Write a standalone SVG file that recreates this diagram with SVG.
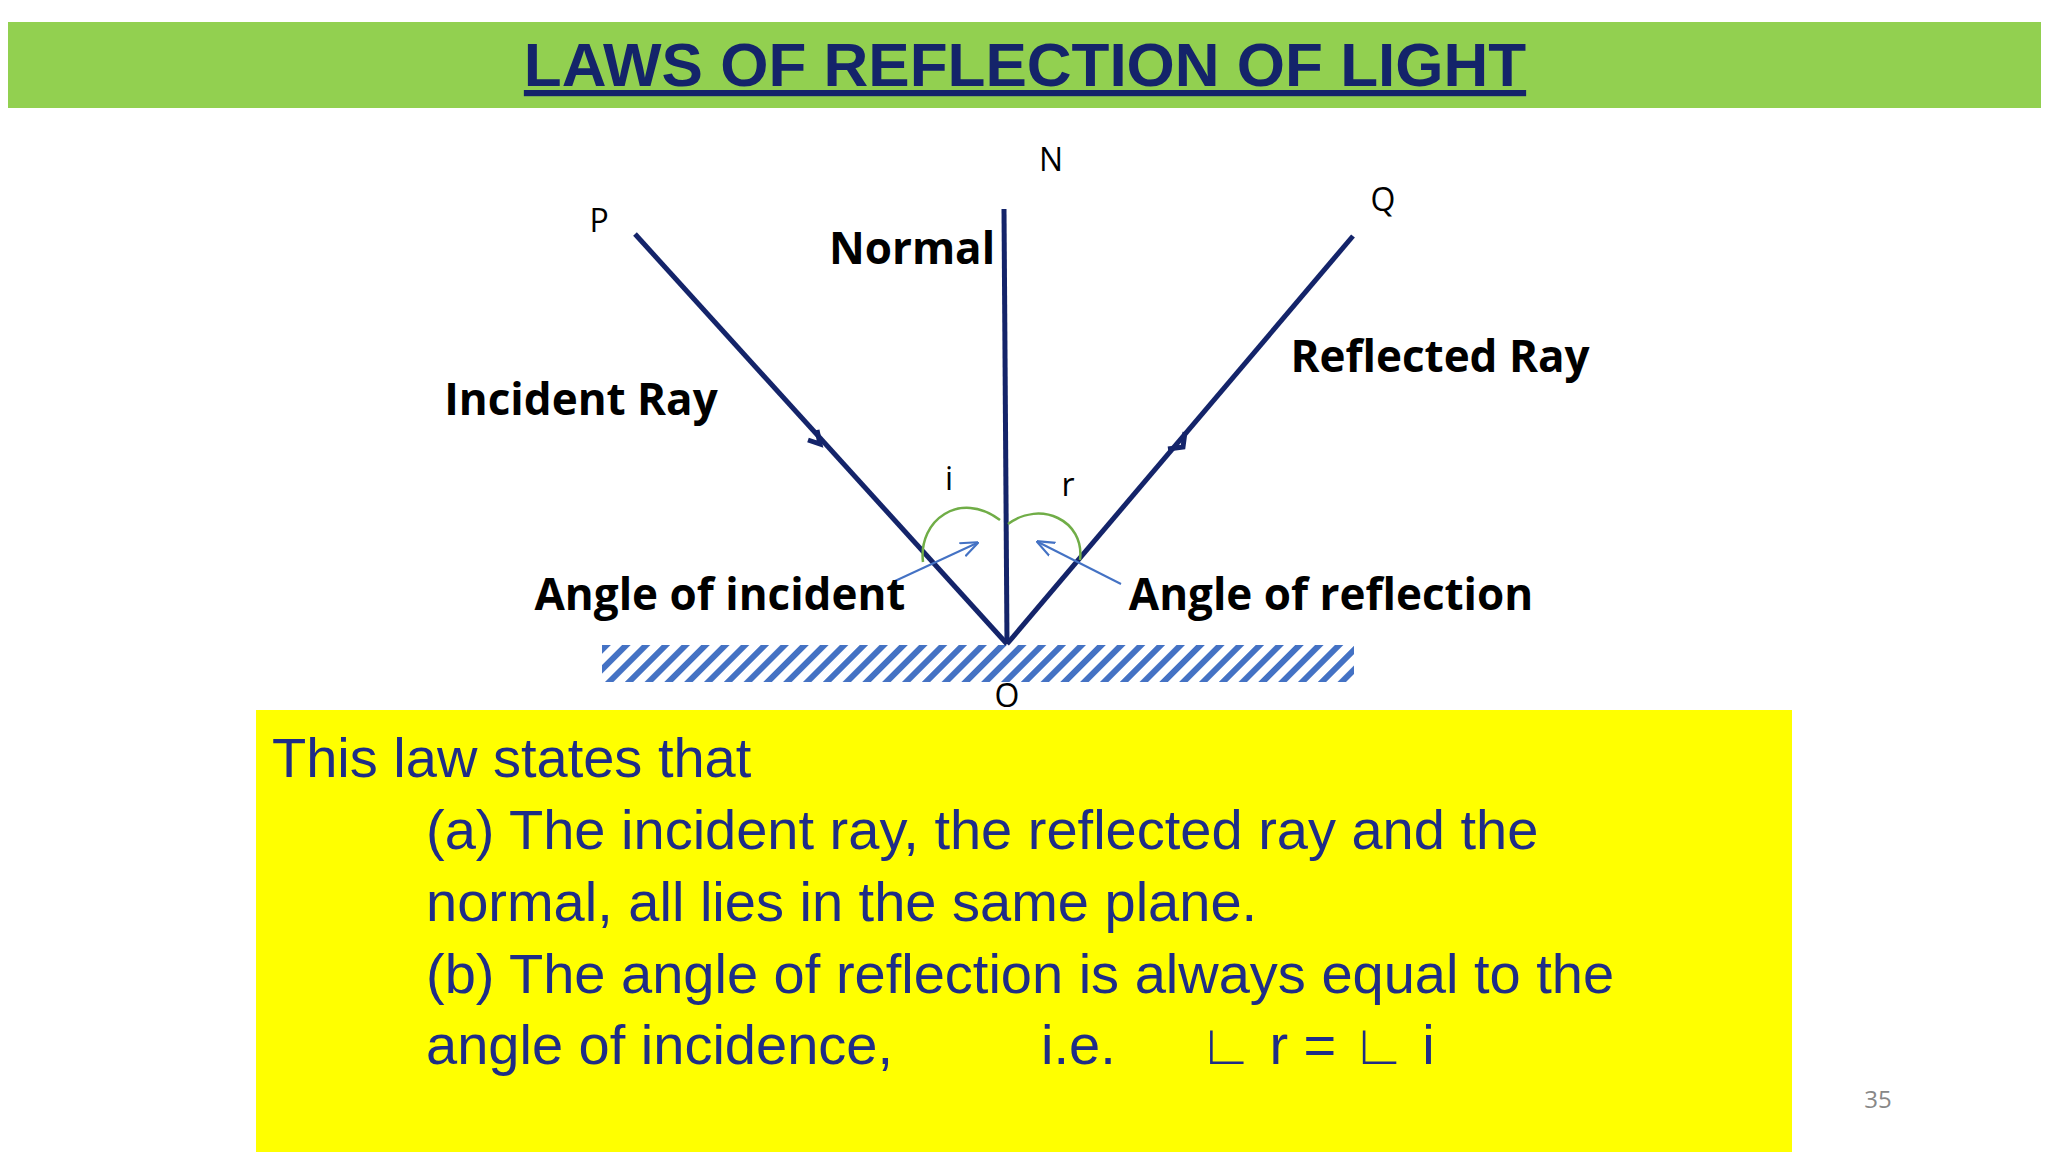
<svg xmlns="http://www.w3.org/2000/svg" width="2048" height="1152" viewBox="0 0 2048 1152">
<style>
.lbl{font-family:"Open Sans","Liberation Sans",sans-serif;font-weight:bold;fill:#000;font-size:44px}
.sm{font-family:"Open Sans","Liberation Sans",sans-serif;fill:#000;font-size:32px}
.ray{stroke:#14246a;stroke-width:5;fill:none}
.arc{stroke:#70ad47;stroke-width:2.5;fill:none}
.thin{stroke:#4472c4;stroke-width:2;fill:none}
.body{font-family:"Liberation Sans",Arial,sans-serif;fill:#1f2d86;font-size:56px}
</style>
<defs>
<pattern id="hatch" width="14" height="14" patternUnits="userSpaceOnUse" patternTransform="rotate(45)">
<rect width="14" height="14" fill="#fff"/>
<rect x="0" y="0" width="6" height="14" fill="#4472c4"/>
</pattern>
<marker id="ah" viewBox="0 0 10 10" refX="9" refY="5" markerWidth="6" markerHeight="6" orient="auto"><path d="M0,0 L10,5 L0,10" fill="none" stroke="#14246a" stroke-width="2"/></marker>
<marker id="th" viewBox="0 0 10 10" refX="9" refY="5" markerWidth="9" markerHeight="9" orient="auto"><path d="M0,1 L10,5 L0,9" fill="none" stroke="#4472c4" stroke-width="1.2"/></marker>
</defs>
<rect width="2048" height="1152" fill="#fff"/>
<g id="title">
<rect x="8" y="22" width="2033" height="86" fill="#92d050"/>
<text x="1025" y="86" text-anchor="middle" font-family="Liberation Sans,Arial,sans-serif" font-weight="bold" font-size="62" fill="#14246a" text-decoration="underline">LAWS OF REFLECTION OF LIGHT</text>
</g>
<g id="mirror"><rect x="602" y="645" width="752" height="37" fill="url(#hatch)"/></g>
<g id="connectors">
<line class="ray" x1="1004" y1="209" x2="1007" y2="644"/>
<line class="ray" x1="635" y1="234" x2="1007" y2="644"/>
<line class="ray" x1="1007" y1="644" x2="1353" y2="236"/>
<path class="ray" d="M808,440 L820,444 L817,430" stroke-width="4"/>
<path class="ray" d="M1168,449 L1183,447 L1185,432" stroke-width="4"/>
<path class="arc" d="M923,562 C918,520 960,490 1000,520"/>
<path class="arc" d="M1008,524 C1040,500 1085,520 1080,560"/>
<line class="thin" x1="895" y1="581" x2="977" y2="543" marker-end="url(#th)"/>
<line class="thin" x1="1121" y1="584" x2="1038" y2="542" marker-end="url(#th)"/>
</g>
<g id="labels">
<text class="sm" x="1051" y="171" text-anchor="middle">N</text>
<text class="sm" x="599" y="232" text-anchor="middle">P</text>
<text class="sm" x="1383" y="211" text-anchor="middle">Q</text>
<text class="sm" x="1007" y="707" text-anchor="middle">O</text>
<text class="sm" x="949" y="490" text-anchor="middle">i</text>
<text class="sm" x="1068" y="496" text-anchor="middle">r</text>
<text class="lbl" x="912" y="264" text-anchor="middle" font-size="38">Normal</text>
<text class="lbl" x="581" y="415" text-anchor="middle">Incident Ray</text>
<text class="lbl" x="1440" y="372" text-anchor="middle">Reflected Ray</text>
<text class="lbl" x="720" y="610" text-anchor="middle">Angle of incident</text>
<text class="lbl" x="1331" y="610" text-anchor="middle">Angle of reflection</text>
</g>
<g id="lawbox">
<rect x="256" y="710" width="1536" height="442" fill="#ffff00"/>
<text class="body" x="272" y="777">This law states that</text>
<text class="body" x="426" y="849">(a) The incident ray, the reflected ray  and the</text>
<text class="body" x="426" y="921">normal, all lies in the same plane.</text>
<text class="body" x="426" y="993">(b) The angle of reflection is always equal to the</text>
<text class="body" x="426" y="1064">angle of incidence,</text>
<text class="body" x="1041" y="1064">i.e.</text>
<text class="body" x="1199" y="1064" font-family="DejaVu Sans,sans-serif">∟ r  = ∟ i</text>
</g>
<text x="1878" y="1108" text-anchor="middle" font-family="Open Sans,Liberation Sans,sans-serif" font-size="24" fill="#888">35</text>
</svg>
